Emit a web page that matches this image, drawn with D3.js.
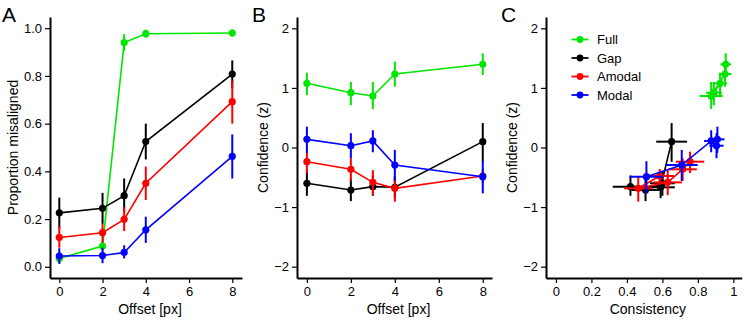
<!DOCTYPE html>
<html><head><meta charset="utf-8">
<script src="https://cdn.jsdelivr.net/npm/d3@7"></script>
<style>
html,body{margin:0;padding:0;background:#fff;}
svg text{font-family:"Liberation Sans",Arial,Helvetica,sans-serif;fill:#000;}
</style></head>
<body><svg id="chart" width="750" height="323"></svg>
<script>
// ---- data ----
const offsets = [0, 2, 3, 4, 8];
const conditions = ["Full", "Gap", "Amodal", "Modal"];
const colors = ["#00e600", "#000000", "#ff0000", "#0000ff"];

// Panel A: proportion misaligned
const propMean = [
  [0.035, 0.087, 0.94, 0.977, 0.98],
  [0.226, 0.245, 0.298, 0.525, 0.808],
  [0.123, 0.143, 0.199, 0.35, 0.692],
  [0.045, 0.047, 0.06, 0.155, 0.463]
];
const propLo = [
  [0.015, 0.067, 0.905, 0.96, 0.965],
  [0.16, 0.18, 0.23, 0.45, 0.75],
  [0.08, 0.10, 0.15, 0.28, 0.60],
  [0.012, 0.015, 0.035, 0.10, 0.37]
];
const propHi = [
  [0.055, 0.107, 0.975, 0.994, 0.995],
  [0.29, 0.31, 0.37, 0.60, 0.865],
  [0.17, 0.18, 0.25, 0.42, 0.78],
  [0.078, 0.08, 0.09, 0.21, 0.555]
];

// Panel B: confidence (z)
const confMean = [
  [1.077, 0.92, 0.864, 1.233, 1.396],
  [-0.60, -0.713, -0.657, -0.668, 0.098],
  [-0.238, -0.366, -0.585, -0.685, -0.478],
  [0.137, 0.03, 0.11, -0.294, -0.49]
];
const confLo = [
  [0.88, 0.71, 0.645, 1.02, 1.216],
  [-0.81, -0.90, -0.81, -0.85, -0.24],
  [-0.43, -0.56, -0.80, -0.91, -0.60],
  [-0.09, -0.18, -0.08, -0.56, -0.77]
];
const confHi = [
  [1.255, 1.10, 1.10, 1.44, 1.58],
  [-0.39, -0.52, -0.47, -0.49, 0.41],
  [-0.07, -0.18, -0.38, -0.49, -0.36],
  [0.35, 0.24, 0.29, -0.04, -0.23]
];

// Panel C: consistency (x) with half-width errors
const consMean = [
  [0.925, 0.89, 0.875, 0.953, 0.957],
  [0.60, 0.505, 0.42, 0.59, 0.652],
  [0.756, 0.714, 0.63, 0.464, 0.585],
  [0.91, 0.905, 0.875, 0.709, 0.51]
];
const consErr = [
  [0.04, 0.045, 0.065, 0.035, 0.03],
  [0.07, 0.08, 0.10, 0.08, 0.087],
  [0.08, 0.08, 0.08, 0.08, 0.08],
  [0.04, 0.04, 0.04, 0.09, 0.094]
];

const xTicksOffset = [0, 2, 4, 6, 8];
const yTicksProp = [0, 0.2, 0.4, 0.6, 0.8, 1.0];
const yTicksConf = [-2, -1, 0, 1, 2];
const xTicksCons = [0, 0.2, 0.4, 0.6, 0.8, 1];

// ---- drawing ----
const svg = d3.select("#chart");
const yTop = 17, yBot = 278;

function makeAxes(g, x, y, xTicks, yTicks, xFmt, yFmt, xTitle, yTitle, letter, left) {
  const xa = g.append("g").attr("transform", `translate(0,${yBot})`)
    .call(d3.axisBottom(x).tickValues(xTicks).tickFormat(xFmt).tickSize(5).tickSizeOuter(0).tickPadding(4));
  const ya = g.append("g").attr("transform", `translate(${x.range()[0]},0)`)
    .call(d3.axisLeft(y).tickValues(yTicks).tickFormat(yFmt).tickSize(5).tickSizeOuter(0).tickPadding(3));
  [xa, ya].forEach(a => {
    a.select(".domain").attr("stroke", "#000").attr("stroke-width", 2);
    a.selectAll(".tick line").attr("stroke", "#000").attr("stroke-width", 1.2);
    a.selectAll(".tick text").style("font-size", "13px").attr("fill", "#000");
  });
  const xr = x.range();
  g.append("text").attr("x", (xr[0] + xr[1]) / 2 + 4).attr("y", 314)
    .attr("text-anchor", "middle").style("font-size", "14px").text(xTitle);
  g.append("text").attr("transform", `translate(${left + 18},${(yTop + yBot) / 2}) rotate(-90)`)
    .attr("text-anchor", "middle").style("font-size", "14px").text(yTitle);
  g.append("text").attr("x", left + 2).attr("y", 22).style("font-size", "21px").text(letter);
}

function drawSeries(g, xs, ys, yLo, yHi, xErr, color, x, y) {
  const pts = xs.map((v, i) => ({x: v, y: ys[i], lo: yLo[i], hi: yHi[i], xe: xErr ? xErr[i] : 0}));
  g.append("path").datum(pts)
    .attr("d", d3.line().x(d => x(d.x)).y(d => y(d.y)))
    .attr("fill", "none").attr("stroke", color).attr("stroke-width", 1.6);
  g.selectAll(null).data(pts).enter().append("line")
    .attr("x1", d => x(d.x)).attr("x2", d => x(d.x))
    .attr("y1", d => y(d.lo)).attr("y2", d => y(d.hi))
    .attr("stroke", color).attr("stroke-width", 2);
  if (xErr) {
    g.selectAll(null).data(pts).enter().append("line")
      .attr("x1", d => x(d.x - d.xe)).attr("x2", d => x(d.x + d.xe))
      .attr("y1", d => y(d.y)).attr("y2", d => y(d.y))
      .attr("stroke", color).attr("stroke-width", 2);
  }
  g.selectAll(null).data(pts).enter().append("circle")
    .attr("cx", d => x(d.x)).attr("cy", d => y(d.y)).attr("r", 3.6)
    .attr("fill", color);
}

// Panel A
{
  const g = svg.append("g");
  const x = d3.scaleLinear().domain([-0.43, 8.45]).range([50, 242]);
  const y = d3.scaleLinear().domain([-0.047, 1.047]).range([yBot, yTop]);
  makeAxes(g, x, y, xTicksOffset, yTicksProp, d3.format("d"), d3.format(".1f"),
    "Offset [px]", "Proportion misaligned", "A", 0);
  conditions.forEach((c, i) => drawSeries(g, offsets, propMean[i], propLo[i], propHi[i], null, colors[i], x, y));
}

// Panel B
{
  const g = svg.append("g");
  const x = d3.scaleLinear().domain([-0.45, 8.42]).range([297, 492]);
  const y = d3.scaleLinear().domain([-2.19, 2.19]).range([yBot, yTop]);
  makeAxes(g, x, y, xTicksOffset, yTicksConf, d3.format("d"), d => d3.format("d")(d).replace("-", "\u2212"),
    "Offset [px]", "Confidence (z)", "B", 250);
  conditions.forEach((c, i) => drawSeries(g, offsets, confMean[i], confLo[i], confHi[i], null, colors[i], x, y));
}

// Panel C
{
  const g = svg.append("g");
  const x = d3.scaleLinear().domain([-0.056, 1.047]).range([546, 741.7]);
  const y = d3.scaleLinear().domain([-2.19, 2.19]).range([yBot, yTop]);
  makeAxes(g, x, y, xTicksCons, yTicksConf, d => d === 0 || d === 1 ? String(d) : d3.format(".1f")(d),
    d => d3.format("d")(d).replace("-", "\u2212"),
    "Consistency", "Confidence (z)", "C", 499);
  conditions.forEach((c, i) => drawSeries(g, consMean[i], confMean[i], confLo[i], confHi[i], consErr[i], colors[i], x, y));

  // legend
  const lg = g.append("g");
  conditions.forEach((c, i) => {
    const yy = 39.5 + i * 18.5;
    lg.append("line").attr("x1", 571.5).attr("x2", 588.5).attr("y1", yy).attr("y2", yy)
      .attr("stroke", colors[i]).attr("stroke-width", 1.8);
    lg.append("circle").attr("cx", 580).attr("cy", yy).attr("r", 3.4).attr("fill", colors[i]);
    lg.append("text").attr("x", 597).attr("y", yy + 4.6).style("font-size", "13px").text(c);
  });
}
</script></body></html>
